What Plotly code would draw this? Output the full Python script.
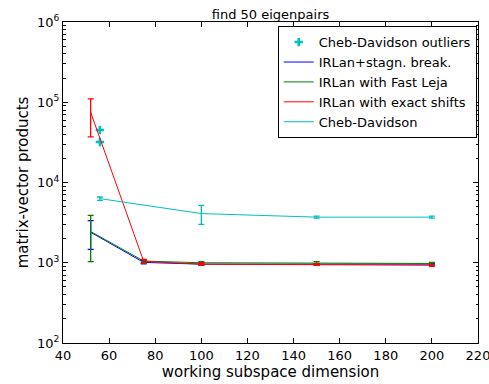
import plotly.graph_objects as go

dims = [52, 75, 100, 150, 200]
cheb_x = [56, 100, 150, 200]

blue_y = [2400, 1010, 960, 950, 960]
blue_hi = [3350, 1060, 990, 975, 985]
blue_lo = [1470, 970, 930, 930, 935]

green_y = [2450, 1050, 1000, 1000, 980]
green_hi = [3900, 1090, 1030, 1030, 1010]
green_lo = [1030, 1000, 970, 970, 950]

red_y = [75000, 1040, 960, 950, 930]
red_hi = [110000, 1100, 1000, 975, 960]
red_lo = [37000, 980, 925, 925, 905]

cyan_y = [6300, 4100, 3700, 3700]
cyan_hi = [6600, 5200, 3800, 3800]
cyan_lo = [6000, 3000, 3600, 3600]

out_x = [56, 56]
out_y = [45000, 32000]

xtick_vals = [40, 60, 80, 100, 120, 140, 160, 180, 200, 220]
ytick_vals = [100, 1000, 10000, 100000, 1000000]
ytick_text = ["10<sup>2</sup>", "10<sup>3</sup>", "10<sup>4</sup>", "10<sup>5</sup>", "10<sup>6</sup>"]
minor_vals = [m * d for d in [100, 1000, 10000, 100000] for m in range(2, 10)]

fig = go.Figure()

fig.add_trace(go.Scatter(x=out_x, y=out_y, mode="markers", name="Cheb-Davidson outliers",
                         marker=dict(symbol="cross-thin-open", size=6, color="#00bfbf",
                                     line=dict(width=2.5, color="#00bfbf"))))

def err_trace(x, y, hi, lo, color, name):
    return go.Scatter(
        x=x, y=y, mode="lines", name=name,
        line=dict(color=color, width=1),
        error_y=dict(type="data", symmetric=False,
                     array=[h - v for h, v in zip(hi, y)],
                     arrayminus=[v - l for v, l in zip(y, lo)],
                     color=color, thickness=1.3, width=3))

fig.add_trace(err_trace(dims, blue_y, blue_hi, blue_lo, "#0000ff", "IRLan+stagn. break."))
fig.add_trace(err_trace(dims, green_y, green_hi, green_lo, "#008000", "IRLan with Fast Leja"))
fig.add_trace(err_trace(dims, red_y, red_hi, red_lo, "#ff0000", "IRLan with exact shifts"))
fig.add_trace(err_trace(cheb_x, cyan_y, cyan_hi, cyan_lo, "#00bfbf", "Cheb-Davidson"))

axis_common = dict(showline=True, linecolor="black", linewidth=1, mirror="ticks",
                   ticks="inside", ticklen=5, tickcolor="black", showgrid=False,
                   zeroline=False, ticklabeloverflow="allow", automargin=False,
                   tickfont=dict(family="DejaVu Sans", size=13, color="black"))

fig.update_xaxes(range=[40, 220], tickvals=xtick_vals,
                 title=dict(text="working subspace dimension", font=dict(family="DejaVu Sans", size=15, color="black"), standoff=2),
                 **axis_common)
fig.update_yaxes(type="log", range=[2, 6], tickvals=ytick_vals, ticktext=ytick_text,
                 minor=dict(ticks="inside", ticklen=2.5, tickcolor="black", showgrid=False,
                            tickvals=minor_vals),
                 title=dict(text="matrix-vector products", font=dict(family="DejaVu Sans", size=15, color="black"), standoff=4),
                 **axis_common)

fig.update_layout(
    width=489, height=384,
    margin=dict(l=63, r=11, t=22, b=41),
    plot_bgcolor="white", paper_bgcolor="white",
    title=dict(text="find 50 eigenpairs", x=0.5, xanchor="center", xref="paper",
               y=1, yref="paper", yanchor="bottom", pad=dict(b=3),
               font=dict(family="DejaVu Sans", size=13, color="black")),
    legend=dict(x=0.997, y=0.987, xanchor="right", yanchor="top",
                bordercolor="black", borderwidth=1, bgcolor="white",
                font=dict(family="DejaVu Sans", size=13, color="black"),
                tracegroupgap=0),
    showlegend=True,
)

fig.write_html("out.html")
